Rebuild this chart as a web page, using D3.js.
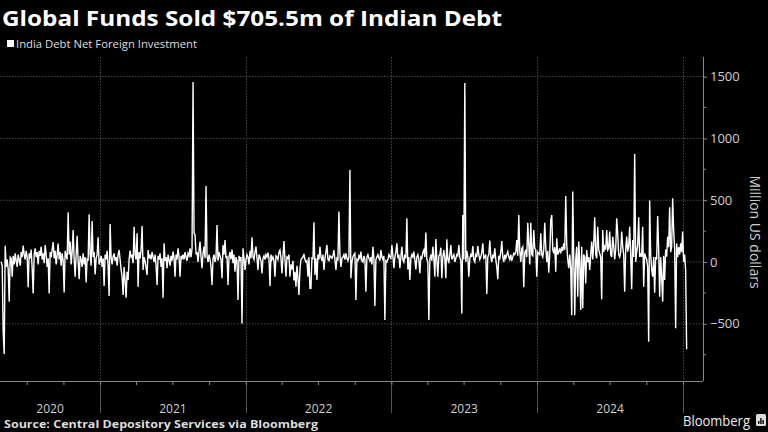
<!DOCTYPE html>
<html>
<head>
<meta charset="utf-8">
<script src="https://cdn.jsdelivr.net/npm/d3@7"></script>
<style>
  html, body { margin: 0; padding: 0; background: #000; }
  svg { display: block; }
</style>
</head>
<body>
<svg id="chart" width="768" height="432"></svg>
<script>
const title = "Global Funds Sold $705.5m of Indian Debt";
const seriesName = "India Debt Net Foreign Investment";
const yLabel = "Million US dollars";
const source = "Source: Central Depository Services via Bloomberg";

const firstDay = "2020-04-28";
const lastDay = "2025-01-10";

const yTicks = [-500, 0, 500, 1000, 1500];
const yMinorTicks = [-750, -250, 250, 750, 1250];
const years = ["2020", "2021", "2022", "2023", "2024", "2025"];

// net flows, million US$ from left to right, evenly spaced in time
const flows = [
  0, -30, -565, -745, 132, -40, 20, -60, -321, 40,
  30, -120, 50, -20, 70, 10, -40, 60, 20, -30,
  80, 40, 132, 60, 20, 90, 40, -205, 70, 30,
  100, -50, -254, 60, 110, 40, 80, -20, 90, 50,
  124, 20, 70, -10, 138, 60, -40, 30, -254, 80,
  40, 100, 162, 30, 90, -20, 60, 150, 20, 80,
  -30, 70, 10, -246, 90, 50, 20, 402, 60, 165,
  -20, 80, 259, 30, -119, 60, 213, 10, -140, 50,
  20, -40, 70, -20, 40, -165, 30, 10, 386, 60,
  -30, 332, 40, 80, -100, 30, 60, 200, -20, 10,
  50, -40, 30, -194, 60, 20, 90, -30, -275, 308,
  40, -20, 43, 70, 10, 40, -30, 60, 97, 20,
  -60, -119, -267, -40, -150, -289, -80, -146, 20, 92,
  40, 50, -10, 286, 60, 20, 232, -200, 80, 30,
  100, 292, -65, 40, 10, -50, -105, 97, 30, 60,
  20, 80, 40, 0, 60, -30, -186, 50, 20, 70,
  -40, 30, -289, 151, 10, 40, -50, 60, 20, -30,
  50, 10, 84, 30, -119, 60, 20, 111, 40, -119,
  50, 30, 60, 20, 80, 40, 10, 70, 50, 111,
  40, 110, 1456, 235, 219, 60, 80, 0, 90, 165,
  40, -50, 70, 124, 30, 615, 50, 0, 60, 20,
  -40, -186, 30, 60, 0, 40, 300, 10, 80, 50,
  20, -132, 138, 60, 178, 30, 50, -186, 40, 80,
  20, 100, -10, 60, -78, 40, 10, -308, 50, 20,
  40, -497, 111, 30, -65, 20, 60, 40, -20, 90,
  30, 200, 40, 20, 80, 124, 30, -65, 60, 40,
  10, -92, 30, 50, 20, 60, 40, 76, 30, -194,
  60, 20, 40, 10, -119, 50, 40, 20, 80, 97,
  30, -92, 50, 170, 20, -119, 40, 30, 60, -119,
  -20, -60, 10, -150, -80, -200, -30, -130, -267, -60,
  20, 30, 40, 65, 20, 0, 10, -119, 40, -213,
  -213, 40, 20, 321, -105, 30, -146, 60, 20, 124,
  40, 10, 60, -65, 30, 80, 138, 20, 10, 50,
  40, 30, 50, 97, 20, -65, 30, 20, 408, 60,
  -40, 30, 40, 60, 20, 70, 30, 10, 40, 744,
  -132, 0, 40, 60, 70, -308, 20, 10, 50, 30,
  84, 10, 0, 50, 20, -240, 40, 60, 30, 10,
  40, -20, 124, 30, -356, 20, 40, 60, 30, 10,
  97, 40, 20, 50, -470, 10, 0, 20, 60, 40,
  30, 138, 50, -50, 40, 80, 151, 30, 60, -50,
  40, 124, 20, 0, 60, 30, 354, -60, 40, -146,
  30, 60, 40, 84, 20, -60, 40, 60, 20, -90,
  40, 30, 80, 97, 40, 238, 20, 0, -470, 20,
  60, 10, 124, 30, -119, 186, 20, -119, 50, 60,
  116, -132, 40, 97, 30, -132, 184, 20, 0, 60,
  138, 20, 40, 60, 0, 30, 60, 50, 138, 40,
  10, -416, 380, 20, 1448, 0, 90, 40, -119, 30,
  60, 40, 130, 20, 0, 60, 40, 130, 60, 20,
  40, 80, 151, 30, 40, 60, -259, 40, 60, 173,
  40, 0, 60, 30, 111, 20, -40, -140, 50, 30,
  80, 170, 40, 0, 60, 30, 60, 84, 40, 20,
  60, 10, 40, 70, 60, 80, 178, 50, 380, 90,
  0, 110, 124, -205, 70, 100, 40, 318, 140, -20,
  318, 60, 50, 259, 110, 100, -119, 80, 70, 60,
  232, 60, 40, 100, 318, 120, 0, 90, -86, 60,
  340, 380, 100, 70, 120, -78, 192, 60, 80, 110,
  70, 120, 90, 150, 100, 535, 140, 20, -50, 60,
  -50, -430, 570, 40, -430, 20, 124, -281, 165, 0,
  -389, 124, -375, 60, 40, -173, 97, 0, 40, -65,
  60, 165, 20, 150, 362, 60, 30, 286, 100, 70,
  40, -302, 259, 80, 124, 100, 259, 97, 110, 246,
  60, 40, 205, 130, 20, 100, 354, 230, 60, 40,
  80, 246, 124, 60, -240, 100, 205, 84, 130, 286,
  60, -221, 178, 40, 874, 0, 80, 138, 362, 40,
  60, 43, 286, -200, 70, 43, 20, -40, -645, 497,
  60, -65, -119, 40, -248, 40, 20, 372, 100, -281,
  40, -119, -321, 50, -146, 100, 43, 205, 120, 443,
  80, 124, 515, 259, 100, -537, 151, 40, 120, 60,
  151, 80, 246, 0, 60, -65, -705.5
];

const svg = d3.select("#chart");
const W = 768, H = 432;
const plotLeft = 0, plotRight = 703, plotTop = 57, plotBottom = 381;
const gridColor = "#4a4a4a";
const textColor = "#cfcfcf";
const FONT = "'Open Sans', 'DejaVu Sans', sans-serif";

svg.append("rect").attr("width", W).attr("height", H).attr("fill", "#000");

const t0 = new Date(firstDay).getTime(), t1 = new Date(lastDay).getTime();
const data = flows.map((v, i) => ({
    date: new Date(t0 + i * (t1 - t0) / (flows.length - 1)),
    value: v
}));

const x = d3.scaleUtc()
    .domain([new Date("2020-04-25"), new Date("2025-02-20")])
    .range([plotLeft, plotRight]);

const y = d3.scaleLinear()
    .domain([-963, 1659])
    .range([plotBottom, plotTop]);

// horizontal grid
svg.append("g")
    .selectAll("line")
    .data(yTicks)
    .enter()
    .append("line")
    .attr("x1", plotLeft)
    .attr("x2", plotRight)
    .attr("y1", d => y(d))
    .attr("y2", d => y(d))
    .attr("stroke", gridColor)
    .attr("stroke-width", 1)
    .attr("stroke-dasharray", "1.5,1.5");

// year boundaries
const yearStarts = years.slice(1).map(d => new Date(d + "-01-01"));
svg.append("g")
    .selectAll("line")
    .data(yearStarts)
    .enter()
    .append("line")
    .attr("x1", d => Math.round(x(d)) + 0.5)
    .attr("x2", d => Math.round(x(d)) + 0.5)
    .attr("y1", plotTop)
    .attr("y2", plotBottom)
    .attr("stroke", gridColor)
    .attr("stroke-dasharray", "1.5,1.5");

svg.append("g")
    .selectAll("line")
    .data(yearStarts)
    .enter()
    .append("line")
    .attr("x1", d => Math.round(x(d)) + 0.5)
    .attr("x2", d => Math.round(x(d)) + 0.5)
    .attr("y1", plotBottom)
    .attr("y2", 413)
    .attr("stroke", "#555");

// bottom axis with quarter ticks
const xAxis = svg.append("g")
    .attr("transform", `translate(0, ${plotBottom})`)
    .call(d3.axisBottom(x)
        .ticks(d3.utcMonth.every(3))
        .tickSize(4)
        .tickFormat(""));
xAxis.select(".domain").attr("stroke", "#888").attr("d", `M${plotLeft},0.5H${plotRight}`);
xAxis.selectAll(".tick line").attr("stroke", "#888");

// year labels centred in each visible year
const yearSpans = years.slice(0, 5).map(yr => {
    const a = Math.max(plotLeft, x(new Date(yr + "-01-01")));
    const b = Math.min(plotRight, x(new Date((+yr + 1) + "-01-01")));
    return { label: yr, mid: (a + b) / 2 };
});
svg.append("g")
    .selectAll("text")
    .data(yearSpans)
    .enter()
    .append("text")
    .attr("x", d => d.mid)
    .attr("y", 413)
    .attr("text-anchor", "middle")
    .attr("fill", textColor)
    .style("font-family", FONT)
    .style("font-size", "12px")
    .text(d => d.label);

// right axis
const yAxis = svg.append("g")
    .attr("transform", `translate(${plotRight}, 0)`)
    .call(d3.axisRight(y)
        .tickValues(yTicks)
        .tickFormat(d3.format("d"))
        .tickSize(4)
        .tickPadding(3));
yAxis.select(".domain").attr("stroke", "#888").attr("d", `M0.5,${plotTop}V${plotBottom}`);
yAxis.selectAll(".tick line").attr("stroke", "#888");
yAxis.selectAll(".tick text")
    .attr("fill", textColor)
    .style("font-family", FONT)
    .style("font-size", "13px");

svg.append("g")
    .attr("transform", `translate(${plotRight}, 0)`)
    .selectAll("line")
    .data(yMinorTicks)
    .enter()
    .append("line")
    .attr("x1", 0)
    .attr("x2", 3)
    .attr("y1", d => y(d))
    .attr("y2", d => y(d))
    .attr("stroke", "#888");

svg.append("text")
    .attr("transform", `translate(750, 232) rotate(90)`)
    .attr("text-anchor", "middle")
    .attr("fill", textColor)
    .style("font-family", FONT)
    .style("font-size", "14px")
    .text(yLabel);

// the series
const line = d3.line()
    .x(d => x(d.date))
    .y(d => y(d.value));

svg.append("path")
    .datum(data)
    .attr("d", line)
    .attr("fill", "none")
    .attr("stroke", "#fff")
    .attr("stroke-width", 1.4)
    .attr("stroke-linejoin", "miter");

// title and legend
svg.append("text")
    .attr("x", 2)
    .attr("y", 26)
    .attr("fill", "#fff")
    .attr("textLength", 500)
    .attr("lengthAdjust", "spacingAndGlyphs")
    .style("font-family", FONT)
    .style("font-weight", "bold")
    .style("font-size", "22px")
    .text(title);

svg.append("rect")
    .attr("x", 7).attr("y", 40)
    .attr("width", 7).attr("height", 7)
    .attr("fill", "#fff");

svg.append("text")
    .attr("x", 16)
    .attr("y", 48)
    .attr("fill", "#ddd")
    .attr("textLength", 181)
    .attr("lengthAdjust", "spacingAndGlyphs")
    .style("font-family", FONT)
    .style("font-size", "11px")
    .text(seriesName);

// footer
svg.append("text")
    .attr("x", 4)
    .attr("y", 428)
    .attr("fill", "#ddd")
    .attr("textLength", 314)
    .attr("lengthAdjust", "spacingAndGlyphs")
    .style("font-family", FONT)
    .style("font-weight", "bold")
    .style("font-size", "11px")
    .text(source);

svg.append("text")
    .attr("x", 683)
    .attr("y", 426)
    .attr("fill", "#eee")
    .attr("textLength", 67)
    .attr("lengthAdjust", "spacingAndGlyphs")
    .style("font-family", FONT)
    .style("font-size", "14px")
    .text("Bloomberg");

const logo = svg.append("g").attr("transform", "translate(756, 414)");
logo.append("rect").attr("width", 10).attr("height", 12).attr("rx", 1.5).attr("fill", "#ddd");
logo.selectAll("rect.bar")
    .data([3, 6, 4])
    .enter()
    .append("rect")
    .attr("class", "bar")
    .attr("x", (d, i) => 2 + i * 2.2)
    .attr("y", d => 10 - d)
    .attr("width", 1.4)
    .attr("height", d => d)
    .attr("fill", "#000");
</script>
</body>
</html>
